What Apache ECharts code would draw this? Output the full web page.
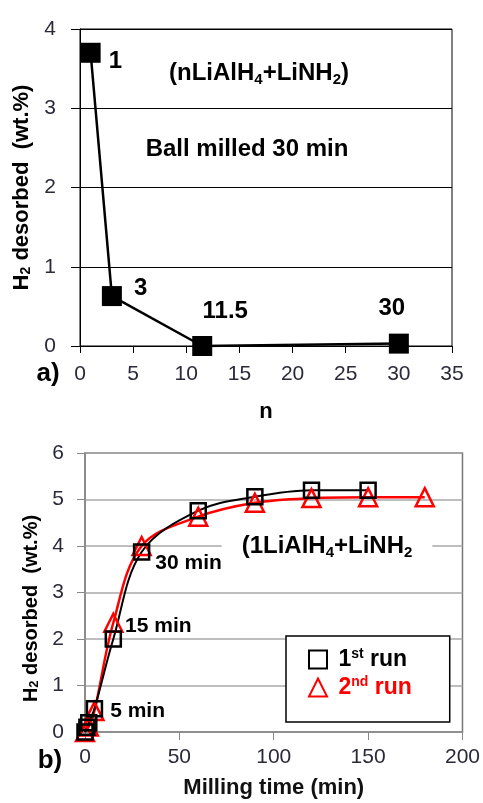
<!DOCTYPE html>
<html>
<head>
<meta charset="utf-8">
<script src="https://cdn.jsdelivr.net/npm/echarts@6/dist/echarts.min.js"></script>
<style>
html,body{margin:0;padding:0;background:#fff;}
#c{width:483px;height:803px;}
</style>
</head>
<body>
<div id="c"></div>
<script>
// ---- data ----
const topN = [1, 3, 11.5, 30];
const topH2 = [3.7, 0.63, 0.0, 0.03];
const run1Time = [0, 1, 2, 5, 15, 30, 60, 90, 120, 150];
const run1H2 = [0, 0.1, 0.2, 0.5, 2.0, 3.87, 4.76, 5.06, 5.2, 5.2];
const run2Time = [0, 2, 5, 15, 30, 60, 90, 120, 150, 180];
const run2H2 = [0, 0.12, 0.45, 2.35, 4.0, 4.63, 4.93, 5.03, 5.05, 5.05];
const run1Name = '1st run';
const run2Name = '2nd run';
const labeledTimes = [5, 15, 30];

// ---- styling helpers ----
const FF = '"Liberation Sans", Arial, sans-serif';
const tickColor = '#2a2a3a';

const topLabelStyle = [
  {position: 'right', distance: 8, offset: [0, 9]},
  {position: 'right', distance: 12, offset: [0, -8]},
  {position: 'top', distance: 13, offset: [23, 0]},
  {position: 'top', distance: 13, offset: [-7, 0]}
];
const botLabelStyle = {
  5: {position: 'right', distance: 7, offset: [0, 2]},
  15: {position: 'right', distance: 3, offset: [0, -13]},
  30: {position: 'right', distance: 5, offset: [0, 11]}
};

const topData = topN.map((n, i) => ({
  value: [n, topH2[i]],
  label: Object.assign({show: true}, topLabelStyle[i])
}));
const run1Data = run1Time.map((t, i) => {
  const d = {value: [t, run1H2[i]]};
  if (labeledTimes.indexOf(t) >= 0) d.label = Object.assign({show: true}, botLabelStyle[t]);
  return d;
});
const run2Data = run2Time.map((t, i) => [t, run2H2[i]]);

const yNameRich = (fs, ss) => ({
  m: {fontSize: fs, fontWeight: 'bold', fontFamily: FF, color: '#000'},
  s: {fontSize: ss, fontWeight: 'bold', fontFamily: FF, color: '#000', verticalAlign: 'bottom', lineHeight: 12}
});

const chart = echarts.init(document.getElementById('c'), null, {renderer: 'canvas'});
chart.setOption({
  animation: false,
  backgroundColor: '#fff',
  textStyle: {fontFamily: FF},
  grid: [
    {left: 80, top: 29, width: 372, height: 317, show: true, borderColor: '#000', borderWidth: 1, backgroundColor: 'transparent'},
    {left: 85, top: 453, width: 378, height: 279, show: true, borderColor: '#777', borderWidth: 1.5, backgroundColor: 'transparent'}
  ],
  xAxis: [
    {
      gridIndex: 0, type: 'value', min: 0, max: 35, interval: 5,
      name: 'n', nameLocation: 'middle', nameGap: 55,
      nameTextStyle: {fontSize: 22, fontWeight: 'bold', color: '#000', fontFamily: FF},
      axisLine: {show: true, lineStyle: {color: '#000', width: 1}},
      axisTick: {show: true, length: 7, lineStyle: {color: '#000'}},
      axisLabel: {fontSize: 21, color: tickColor, margin: 18, fontFamily: FF},
      splitLine: {show: false}
    },
    {
      gridIndex: 1, type: 'value', min: 0, max: 200, interval: 50,
      name: 'Milling time (min)', nameLocation: 'middle', nameGap: 45,
      nameTextStyle: {fontSize: 22, fontWeight: 'bold', color: '#111', fontFamily: FF},
      axisLine: {show: true, lineStyle: {color: '#888', width: 1.5}},
      axisTick: {show: true, length: 8, lineStyle: {color: '#888'}},
      axisLabel: {fontSize: 21, color: tickColor, margin: 15, fontFamily: FF},
      splitLine: {show: false}
    }
  ],
  yAxis: [
    {
      gridIndex: 0, type: 'value', min: 0, max: 4, interval: 1,
      name: '{m|H}{s|2}{m| desorbed  (wt.%)}', nameLocation: 'middle', nameGap: 45,
      nameTextStyle: {rich: yNameRich(22, 14)},
      axisLine: {show: true, lineStyle: {color: '#000', width: 1}},
      axisTick: {show: true, length: 9, lineStyle: {color: '#000'}},
      axisLabel: {fontSize: 21, color: tickColor, margin: 24, fontFamily: FF},
      splitLine: {show: true, lineStyle: {color: '#000', width: 1}}
    },
    {
      gridIndex: 1, type: 'value', min: 0, max: 6, interval: 1,
      name: '{m|H}{s|2}{m| desorbed  (wt.%)}', nameLocation: 'middle', nameGap: 41,
      nameTextStyle: {rich: yNameRich(20, 13), padding: [0, 32, 0, 0]},
      axisLine: {show: true, lineStyle: {color: '#888', width: 1.5}},
      axisTick: {show: true, length: 8, lineStyle: {color: '#888'}},
      axisLabel: {fontSize: 21, color: tickColor, margin: 21, fontFamily: FF},
      splitLine: {show: true, lineStyle: {color: '#a8a8a8', width: 1.5}}
    }
  ],
  legend: {
    show: true,
    orient: 'vertical',
    left: 286, top: 636,
    backgroundColor: '#fff',
    borderColor: '#000', borderWidth: 1.5, borderRadius: 0,
    padding: [11, 38, 23, 22],
    itemGap: 4,
    itemWidth: 18, itemHeight: 18,
    data: [
      {name: run1Name, icon: 'rect', itemStyle: {color: 'transparent', borderColor: '#000', borderWidth: 2}},
      {name: run2Name, icon: 'triangle', itemStyle: {color: 'transparent', borderColor: '#ff0000', borderWidth: 2}}
    ],
    formatter: function (name) {
      return name === run1Name ? '{k| 1}{ks|st}{k| run}' : '{r| 2}{rs|nd}{r| run}';
    },
    textStyle: {
      rich: {
        k: {color: '#000', fontSize: 23, fontWeight: 'bold', fontFamily: FF, lineHeight: 25},
        ks: {color: '#000', fontSize: 14, fontWeight: 'bold', fontFamily: FF, verticalAlign: 'top', lineHeight: 12},
        r: {color: '#ff0000', fontSize: 23, fontWeight: 'bold', fontFamily: FF, lineHeight: 25},
        rs: {color: '#ff0000', fontSize: 14, fontWeight: 'bold', fontFamily: FF, verticalAlign: 'top', lineHeight: 12}
      }
    }
  },
  graphic: [
    {type: 'text', x: 259, y: 73, z: 10, style: {
      text: '{m|(nLiAlH}{s|4}{m|+LiNH}{s|2}{m|)}', align: 'center', verticalAlign: 'middle',
      rich: {m: {fontSize: 24, fontWeight: 'bold', fontFamily: FF, fill: '#000', lineHeight: 28},
             s: {fontSize: 15, fontWeight: 'bold', fontFamily: FF, fill: '#000', verticalAlign: 'bottom', lineHeight: 14}}
    }},
    {type: 'text', x: 247, y: 149, z: 10, style: {
      text: 'Ball milled 30 min', align: 'center', verticalAlign: 'middle',
      font: 'bold 24px ' + FF, fill: '#000'
    }},
    {type: 'text', x: 327, y: 546, z: 10, style: {
      text: '{m|(1LiAlH}{s|4}{m|+LiNH}{s|2}', align: 'center', verticalAlign: 'middle',
      backgroundColor: '#fff', padding: [4, 20, 4, 20],
      rich: {m: {fontSize: 24, fontWeight: 'bold', fontFamily: FF, fill: '#000', lineHeight: 28},
             s: {fontSize: 15, fontWeight: 'bold', fontFamily: FF, fill: '#000', verticalAlign: 'bottom', lineHeight: 14}}
    }},
    {type: 'text', x: 48, y: 374, z: 10, style: {
      text: 'a)', align: 'center', verticalAlign: 'middle', font: 'bold 26px ' + FF, fill: '#000'
    }},
    {type: 'text', x: 50, y: 761, z: 10, style: {
      text: 'b)', align: 'center', verticalAlign: 'middle', font: 'bold 26px ' + FF, fill: '#000'
    }}
  ],
  series: [
    {
      type: 'line', xAxisIndex: 0, yAxisIndex: 0,
      data: topData,
      symbol: 'rect', symbolSize: 20, clip: false,
      itemStyle: {color: '#000'},
      lineStyle: {color: '#000', width: 2.5},
      label: {show: true, formatter: p => String(p.value[0]), fontSize: 24, fontWeight: 'bold', color: '#000', fontFamily: FF}
    },
    {
      name: run2Name, type: 'line', xAxisIndex: 1, yAxisIndex: 1,
      data: run2Data, smooth: 0.35,
      symbol: 'triangle', symbolSize: 18, clip: false,
      itemStyle: {color: 'transparent', borderColor: '#ff0000', borderWidth: 2.5},
      lineStyle: {color: '#ff0000', width: 2.5}
    },
    {
      name: run1Name, type: 'line', xAxisIndex: 1, yAxisIndex: 1,
      data: run1Data, smooth: 0.35,
      symbol: 'rect', symbolSize: 15, clip: false,
      itemStyle: {color: 'transparent', borderColor: '#000', borderWidth: 2.5},
      lineStyle: {color: '#000', width: 2},
      label: {show: false, formatter: p => p.value[0] + ' min', fontSize: 21, fontWeight: 'bold', color: '#000', fontFamily: FF}
    }
  ]
});
</script>
</body>
</html>
